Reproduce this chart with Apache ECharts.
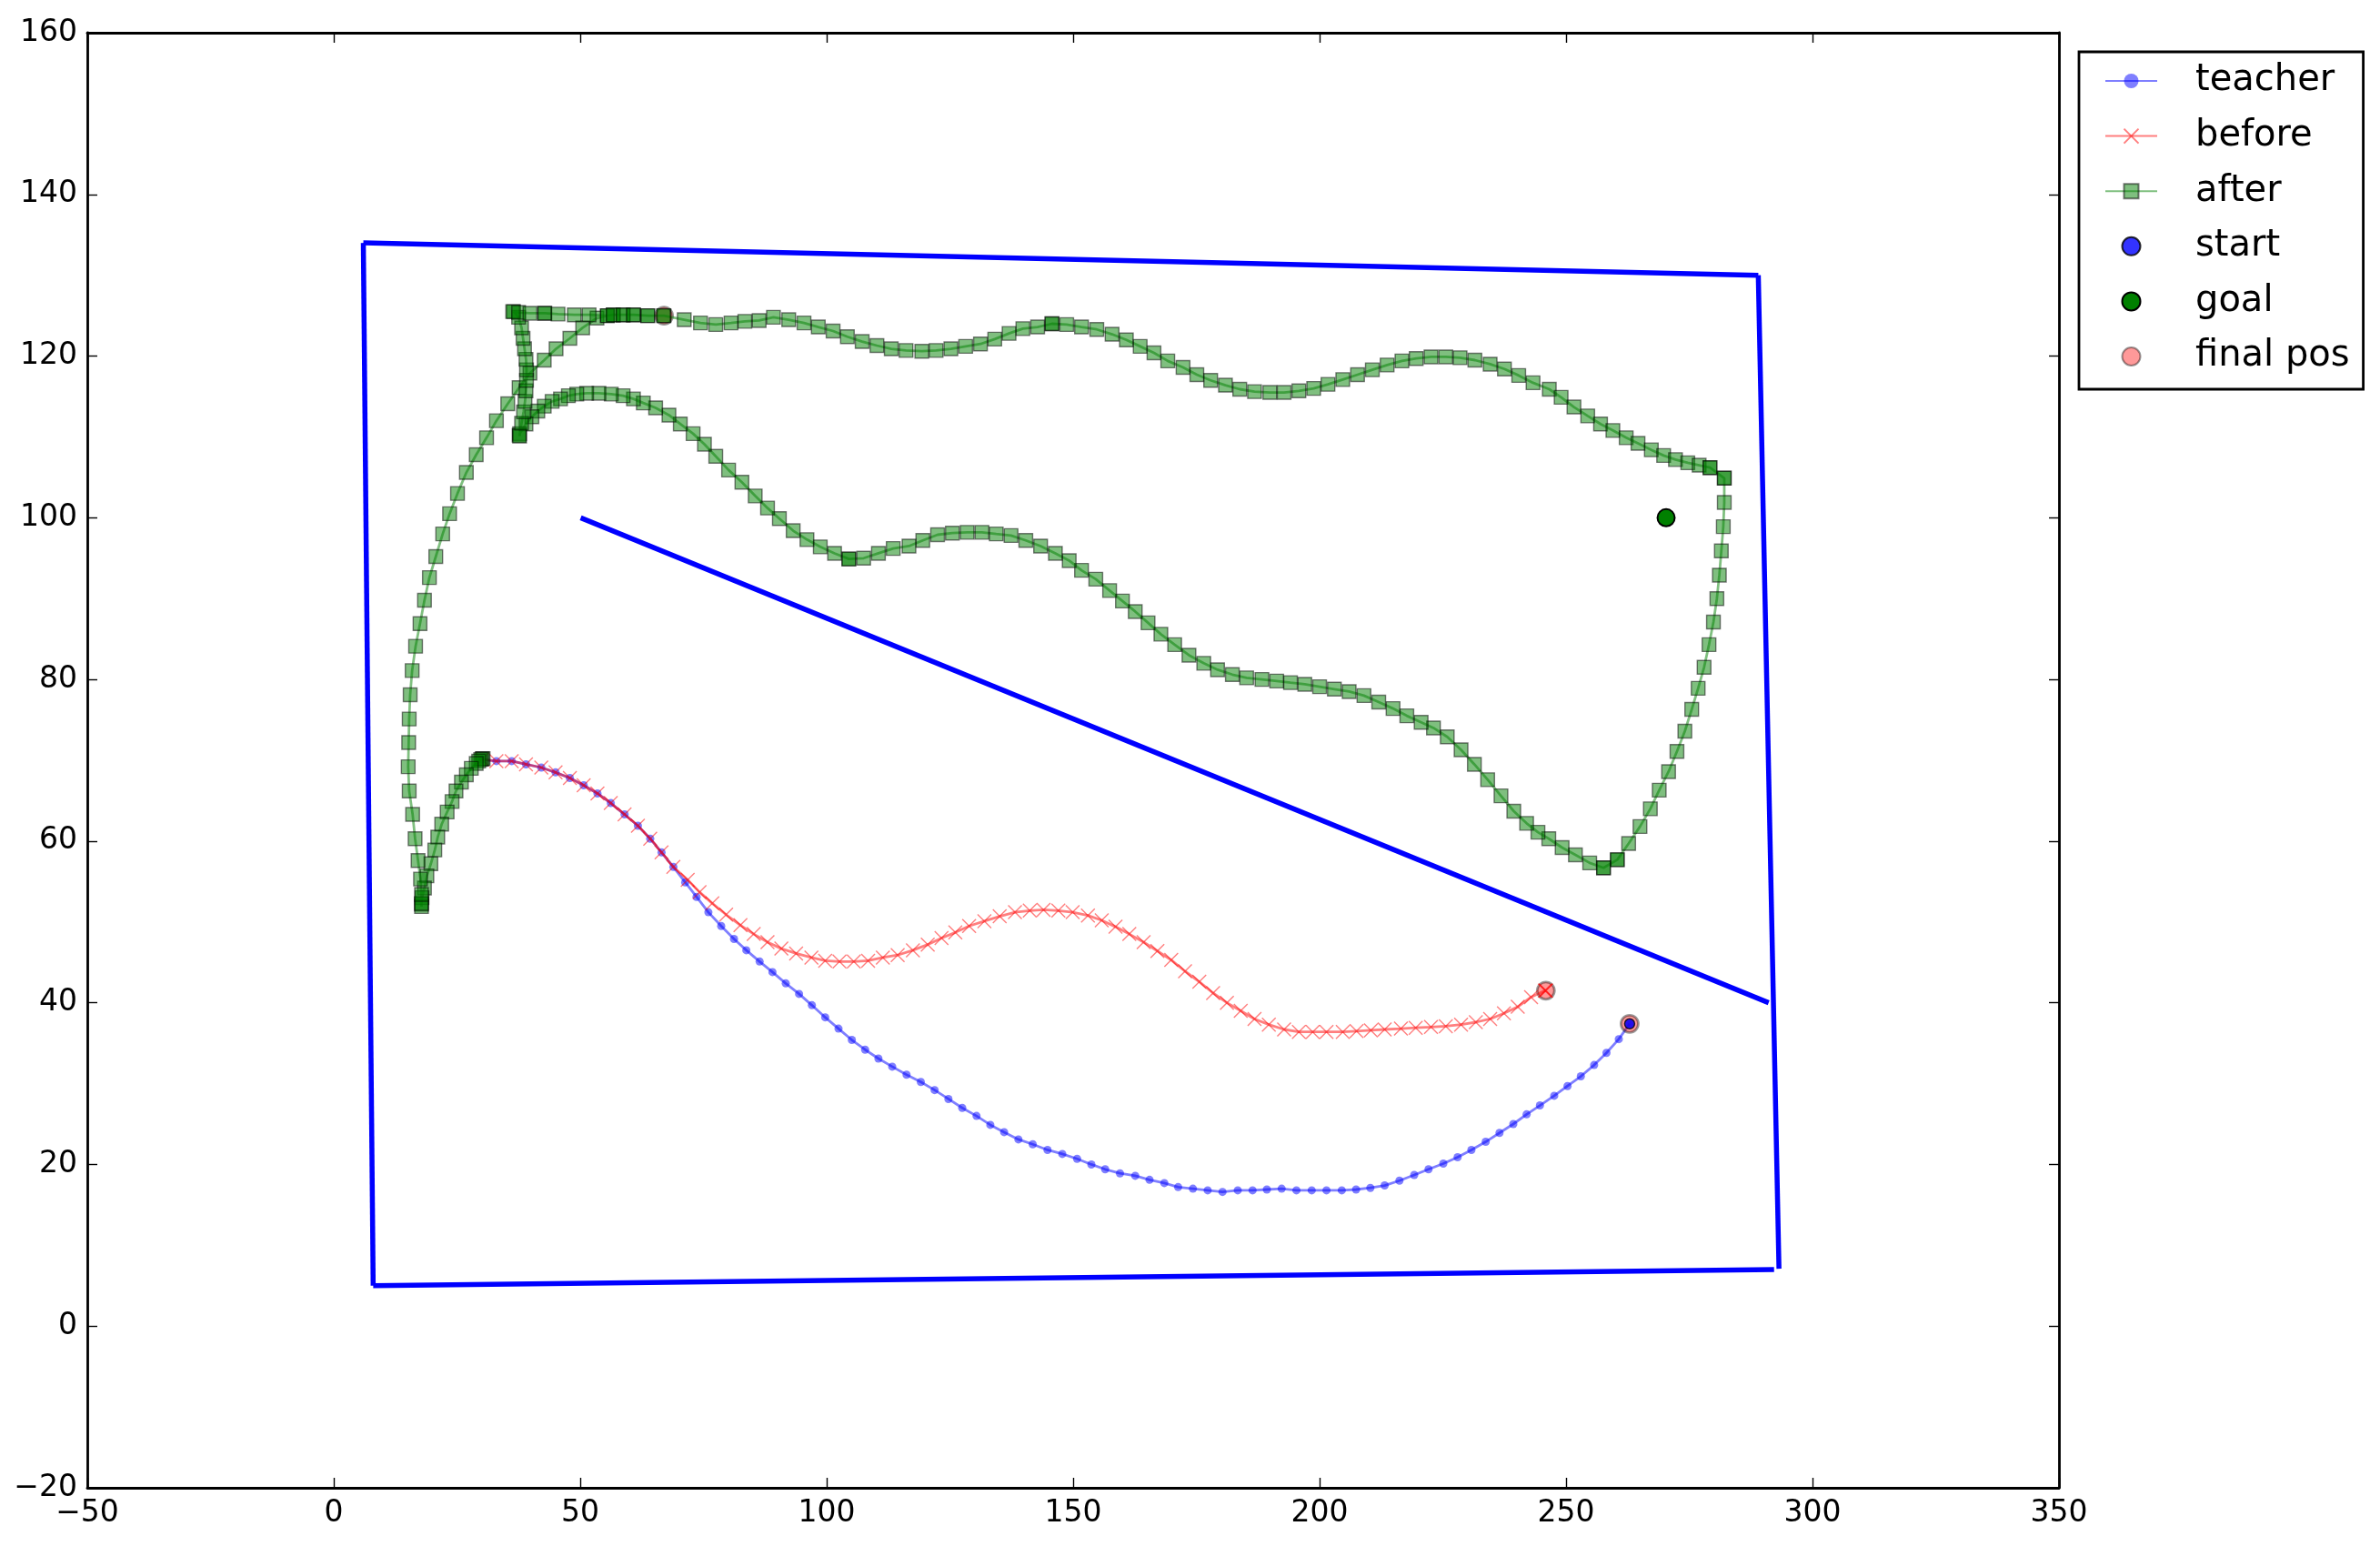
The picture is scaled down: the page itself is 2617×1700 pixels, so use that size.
<!DOCTYPE html>
<html>
<head>
<meta charset="utf-8">
<script src="https://cdn.jsdelivr.net/npm/echarts@6/dist/echarts.min.js"></script>
<style>
html, body { margin: 0; padding: 0; background: #fff; }
#chart { width: 2617px; height: 1700px; }
</style>
</head>
<body>
<div id="chart"></div>
<script>
// walls of the arena
const wallTop = [[6.0, 134.0], [289.0, 130.0]];
const wallRight = [[289.0, 130.0], [293.2, 7.1]];
const wallBottom = [[8.0, 5.0], [292.2, 7.0]];
const wallLeft = [[6.0, 134.0], [8.0, 5.0]];
const wallDiag = [[50.1, 100.0], [291.1, 40.0]];

// teacher demo
const teacher = [[30.1,70.1],[33.0,69.9],[36.1,69.9],[39.0,69.5],[42.1,69.1],[45.0,68.5],[47.9,67.8],[50.7,66.9],[53.5,65.9],[56.2,64.7],[59.0,63.3],[61.7,61.9],[64.2,60.3],[66.5,58.6],[68.9,56.8],[71.3,54.9],[73.6,53.1],[76.0,51.2],[78.6,49.5],[81.2,47.9],[83.7,46.5],[86.4,45.1],[89.0,43.8],[91.7,42.4],[94.4,41.1],[97.0,39.7],[99.7,38.2],[102.4,36.8],[105.1,35.4],[107.8,34.2],[110.5,33.1],[113.3,32.1],[116.2,31.1],[119.1,30.2],[121.9,29.2],[124.7,28.1],[127.5,27.0],[130.4,26.0],[133.2,24.9],[136.0,24.0],[138.9,23.1],[141.8,22.5],[144.8,21.8],[147.8,21.3],[150.8,20.7],[153.7,20.0],[156.5,19.4],[159.5,18.9],[162.6,18.6],[165.5,18.1],[168.5,17.7],[171.3,17.2],[174.3,17.0],[177.3,16.8],[180.3,16.6],[183.4,16.8],[186.4,16.8],[189.3,16.9],[192.3,17.0],[195.3,16.8],[198.4,16.8],[201.4,16.8],[204.5,16.8],[207.4,16.9],[210.3,17.1],[213.2,17.4],[216.2,18.0],[219.2,18.7],[222.1,19.4],[225.1,20.1],[228.0,20.9],[230.8,21.8],[233.7,22.8],[236.5,23.9],[239.3,25.0],[242.0,26.2],[244.7,27.3],[247.6,28.5],[250.3,29.7],[253.0,30.9],[255.7,32.3],[258.2,33.8],[260.7,35.5],[262.9,37.4]];

// before learning
const before = [[30.1,70.1],[33.0,69.9],[36.1,69.9],[39.0,69.5],[42.1,69.1],[45.0,68.5],[47.9,67.8],[50.7,66.9],[53.5,65.9],[56.2,64.7],[59.0,63.3],[61.7,61.9],[64.2,60.3],[66.5,58.6],[68.9,56.8],[71.8,55.2],[74.2,53.7],[76.8,52.3],[79.6,50.9],[82.5,49.6],[85.2,48.5],[88.0,47.5],[90.8,46.7],[93.8,46.1],[96.9,45.6],[99.7,45.2],[102.6,45.1],[105.5,45.1],[108.4,45.2],[111.4,45.6],[114.4,45.9],[117.5,46.5],[120.5,47.2],[123.3,48.0],[126.1,48.7],[128.9,49.5],[132.0,50.1],[135.1,50.7],[138.2,51.2],[141.2,51.4],[144.0,51.5],[147.0,51.4],[149.9,51.2],[153.0,50.8],[155.8,50.2],[158.6,49.4],[161.4,48.5],[164.3,47.5],[167.1,46.4],[169.9,45.3],[172.7,43.9],[175.6,42.6],[178.4,41.2],[181.2,40.0],[184.0,39.0],[186.8,38.0],[189.7,37.3],[192.8,36.7],[195.8,36.4],[198.6,36.4],[201.4,36.4],[204.7,36.4],[207.5,36.5],[210.4,36.6],[213.2,36.7],[216.5,36.8],[219.5,36.9],[222.6,37.0],[225.6,37.1],[228.7,37.3],[231.7,37.6],[234.6,38.0],[237.4,38.7],[240.2,39.5],[242.9,40.7],[245.7,41.5],[245.9,41.5],[245.9,41.5]];

// after learning, read piece by piece along the path
const afterStart = [[30.3,70.2],[30.1,70.2],[29.8,70.1],[29.4,69.9],[28.9,69.6],[27.9,69.0],[26.9,68.2],[25.9,67.3],[24.8,66.2],[24.0,64.9],[23.0,63.6],[21.9,62.1],[21.1,60.5],[20.5,58.9],[19.7,57.2],[18.9,55.7],[18.4,54.2],[17.9,53.0],[17.8,52.2],[17.8,51.9],[17.8,52.3]];
const afterLeftArc = [[17.8,53.4],[17.6,55.3],[17.1,57.6],[16.5,60.3],[16.0,63.3],[15.3,66.2],[15.1,69.2],[15.2,72.2],[15.3,75.1],[15.5,78.1],[15.9,81.1],[16.6,84.1],[17.5,86.9],[18.4,89.8],[19.4,92.6],[20.7,95.2],[22.1,98.0],[23.5,100.5],[25.1,103.0],[26.9,105.6],[28.9,107.8],[31.0,109.9],[33.0,112.0],[35.3,114.1],[37.6,116.1],[39.8,117.9],[42.7,119.5],[45.1,120.9],[47.9,122.2],[50.5,123.5],[53.4,124.7]];
const afterTop = [[55.5,125.0],[56.7,125.1],[58.7,125.1],[60.8,125.1],[63.7,125.0],[67.0,125.0]];
const afterUpperWave = [[71.1,124.5],[74.4,124.1],[77.5,123.9],[80.6,124.1],[83.4,124.3],[86.3,124.4],[89.2,124.8],[92.3,124.5],[95.4,124.1],[98.3,123.6],[101.3,123.1],[104.2,122.4],[107.2,121.8],[110.2,121.3],[113.1,120.9],[116.1,120.7],[119.3,120.6],[122.2,120.7],[125.2,120.9],[128.2,121.2],[131.2,121.5],[134.1,122.1],[137.0,122.8],[139.8,123.4],[142.8,123.6],[145.7,124.0],[145.7,124.0],[148.7,123.9],[151.7,123.6],[154.8,123.3],[157.9,122.7],[160.8,122.0],[163.6,121.2],[166.4,120.4],[169.2,119.4],[172.3,118.6],[175.1,117.7],[177.9,117.0],[180.9,116.4],[183.8,115.9],[186.8,115.6],[189.9,115.5],[192.8,115.5],[195.8,115.7],[198.8,116.0],[201.7,116.5],[204.7,117.1],[207.7,117.7],[210.7,118.3],[213.7,118.9],[216.7,119.4],[219.6,119.7],[222.6,119.9],[225.6,119.9],[228.5,119.8],[231.5,119.5],[234.6,119.0],[237.5,118.4],[240.4,117.6],[243.3,116.7],[246.6,115.9],[249.0,114.9],[251.6,113.7],[254.4,112.6],[257.0,111.6],[259.5,110.8],[262.2,109.9],[264.6,109.2],[267.3,108.4],[269.8,107.7],[272.2,107.2],[274.7,106.8],[277.0,106.5],[279.2,106.2],[279.2,106.2],[282.1,104.9],[282.1,104.9]];
const afterRightSide = [[282.1,101.9],[281.9,98.9],[281.5,95.9],[281.1,92.9],[280.6,90.0],[279.9,87.1],[279.0,84.3],[278.0,81.5],[276.8,78.9],[275.5,76.3],[274.1,73.6],[272.5,71.1],[270.8,68.6],[268.9,66.3],[267.1,64.0],[265.0,61.8],[262.7,59.7],[260.4,57.7],[260.4,57.7],[257.6,56.7],[257.6,56.7]];
const afterLowerWave = [[254.8,57.3],[251.9,58.3],[249.2,59.2],[246.5,60.3],[244.3,61.1],[242.0,62.2],[239.4,63.7],[236.8,65.6],[234.1,67.6],[231.4,69.5],[228.7,71.3],[225.9,72.9],[223.1,74.0],[220.6,74.7],[217.7,75.5],[214.9,76.4],[212.0,77.2],[209.0,78.0],[206.0,78.5],[203.0,78.8],[200.0,79.1],[197.0,79.4],[194.1,79.6],[191.3,79.8],[188.3,80.0],[185.2,80.2],[182.3,80.6],[179.3,81.2],[176.5,82.0],[173.5,83.0],[170.6,84.3],[167.8,85.6],[165.2,87.0],[162.6,88.4],[160.0,89.7],[157.4,91.0],[154.6,92.4],[151.7,93.5],[149.2,94.7],[146.4,95.6],[143.4,96.5],[140.4,97.2],[137.4,97.8],[134.4,98.0],[131.5,98.2],[128.5,98.2],[125.5,98.1],[122.5,97.9],[119.5,97.2],[116.7,96.5],[113.5,96.2],[110.5,95.6],[107.5,95.0],[104.5,94.9],[104.5,94.9],[101.6,95.6],[98.7,96.4],[96.0,97.3],[93.2,98.4],[90.4,99.9],[88.0,101.2],[85.5,102.7],[82.8,104.4],[80.1,105.9],[77.5,107.6],[75.2,109.1],[72.9,110.4],[70.3,111.6],[68.0,112.7],[65.3,113.6],[62.8,114.2],[60.8,114.7],[58.7,115.1],[56.3,115.3],[53.8,115.4],[51.3,115.4],[49.3,115.3],[47.6,115.1],[46.0,114.7],[44.3,114.4],[42.7,113.8],[41.4,113.2],[40.2,112.5],[39.0,111.6],[37.7,110.4],[37.6,110.2],[37.7,110.1]];
const afterVertical = [[38.1,111.7],[38.5,113.1],[38.8,114.4],[39.0,115.7],[39.1,117.0],[39.1,118.3],[39.0,119.6],[38.7,120.9],[38.4,122.2],[38.1,123.5],[37.5,124.8],[36.5,125.5],[36.3,125.5]];
const afterTopReturn = [[37.5,125.4],[39.8,125.3],[42.8,125.3],[42.8,125.3],[45.5,125.2],[48.8,125.1],[51.8,125.1],[55.5,125.0],[56.7,125.1],[58.7,125.1],[60.8,125.1],[63.7,125.0],[66.9,125.0]];

// single markers
const startPts = [[262.9, 37.4]];
const goalPts = [[270.3, 100.0]];
const finalPts = [[245.9, 41.5], [262.9, 37.4], [67.0, 125.0]];

const FONT = 'DejaVu Sans';

function wallSeries(data) {
  return {
    type: 'line', data: data, showSymbol: false, z: 1, silent: true,
    lineStyle: { color: '#0000ff', width: 5.5 }
  };
}

function minus(v) {
  return String(v).replace('-', '\u2212');
}

function buildOption() {
  const afterPath = [].concat(afterStart, afterLeftArc, afterTop, afterUpperWave,
    afterRightSide, afterLowerWave, afterVertical, afterTopReturn);

  const tickStyle = { show: true, inside: true, length: 11, lineStyle: { color: '#000', width: 1.4 } };
  const lineAxis = { show: true, onZero: false, lineStyle: { color: '#000', width: 2.8 } };

  return {
    animation: false,
    backgroundColor: '#fff',
    grid: { left: 96, right: 353, top: 36, bottom: 64, containLabel: false },
    xAxis: [
      {
        type: 'value', min: -50, max: 350, interval: 50, position: 'bottom',
        axisLine: lineAxis, axisTick: tickStyle, splitLine: { show: false },
        axisLabel: { margin: 12, fontSize: 33, fontFamily: FONT, color: '#000', formatter: minus, hideOverlap: false }
      },
      {
        type: 'value', min: -50, max: 350, interval: 50, position: 'top',
        axisLine: lineAxis, axisTick: tickStyle, splitLine: { show: false },
        axisLabel: { show: false }
      }
    ],
    yAxis: [
      {
        type: 'value', min: -20, max: 160, interval: 20, position: 'left',
        axisLine: lineAxis, axisTick: tickStyle, splitLine: { show: false },
        axisLabel: { margin: 11, fontSize: 33, fontFamily: FONT, color: '#000', formatter: minus, hideOverlap: false }
      },
      {
        type: 'value', min: -20, max: 160, interval: 20, position: 'right',
        axisLine: lineAxis, axisTick: tickStyle, splitLine: { show: false },
        axisLabel: { show: false }
      }
    ],
    legend: {
      orient: 'vertical', left: 2286, top: 57,
      padding: [12, 15, 16, 28],
      itemWidth: 57, itemHeight: 20, itemGap: 20.6,
      borderColor: '#000', borderWidth: 2.8, borderRadius: 0,
      selectedMode: false,
      textStyle: { fontSize: 40, fontFamily: FONT, color: '#000', lineHeight: 40, padding: [0, 0, 0, 37] },
      data: ['teacher', 'before', 'after', 'start', 'goal', 'final pos']
    },
    series: [
      wallSeries(wallTop), wallSeries(wallRight), wallSeries(wallBottom),
      wallSeries(wallLeft), wallSeries(wallDiag),
      {
        name: 'teacher', type: 'line', data: teacher, z: 2,
        symbol: 'circle', symbolSize: 9, showSymbol: true,
        lineStyle: { color: 'rgba(0,0,255,0.5)', width: 2.8 },
        itemStyle: { color: 'rgba(0,0,255,0.5)', borderWidth: 0 }
      },
      {
        name: 'final pos', type: 'scatter', data: finalPts, z: 3,
        symbol: 'circle', symbolSize: 19,
        itemStyle: { color: 'rgba(255,0,0,0.5)', borderColor: 'rgba(0,0,0,0.5)', borderWidth: 2.8 }
      },
      {
        name: 'before', type: 'line', data: before, z: 4,
        symbol: 'path://M0,0L10,10M10,0L0,10', symbolSize: 15, showSymbol: true,
        lineStyle: { color: 'rgba(255,0,0,0.5)', width: 2.8 },
        itemStyle: { color: 'rgba(255,0,0,0)', borderColor: 'rgba(255,0,0,0.5)', borderWidth: 1.4 }
      },
      {
        name: 'after', type: 'line', data: afterPath, z: 5,
        symbol: 'rect', symbolSize: 15, showSymbol: true,
        lineStyle: { color: 'rgba(0,128,0,0.5)', width: 2.8 },
        itemStyle: { color: 'rgba(0,128,0,0.5)', borderColor: 'rgba(0,0,0,0.5)', borderWidth: 1.4 }
      },
      {
        name: 'goal', type: 'scatter', data: goalPts, z: 6,
        symbol: 'circle', symbolSize: 19,
        itemStyle: { color: '#008000', borderColor: '#000', borderWidth: 2, opacity: 1 }
      },
      {
        name: 'start', type: 'scatter', data: startPts, z: 7,
        symbol: 'circle', symbolSize: 11,
        itemStyle: { color: '#0000ff', borderColor: '#000', borderWidth: 1.5 }
      }
    ]
  };
}

const chart = echarts.init(document.getElementById('chart'), null, { renderer: 'canvas' });
chart.setOption(buildOption());
</script>
</body>
</html>
